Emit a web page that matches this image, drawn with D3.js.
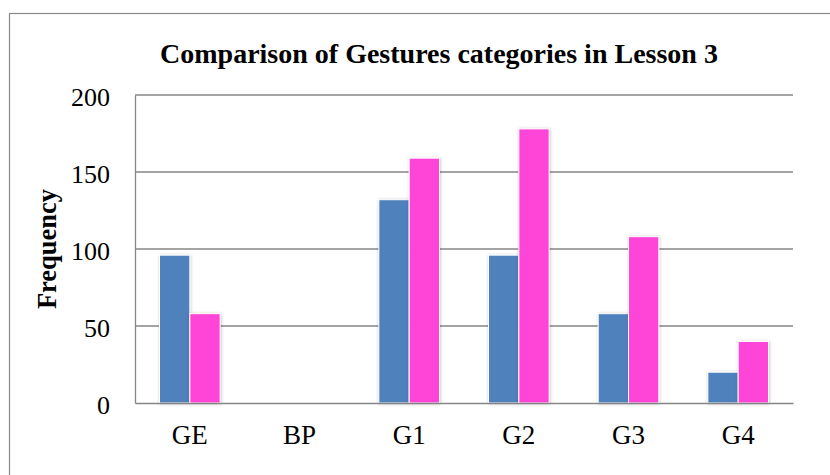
<!DOCTYPE html>
<html>
<head>
<meta charset="utf-8">
<script src="https://cdn.jsdelivr.net/npm/d3@7"></script>
<style>
  body { margin: 0; background: #fff; }
  svg { display: block; font-family: "Liberation Serif", "Times New Roman", serif; }
</style>
</head>
<body>
<svg id="chart"></svg>
<script>
// data
var categories = ["GE", "BP", "G1", "G2", "G3", "G4"];
var seriesA = [96, 0, 132, 96, 58, 20];
var seriesB = [58, 0, 159, 178, 108, 40];
var yTicks = [0, 50, 100, 150, 200];
var titleText = "Comparison of Gestures categories in Lesson 3";

var size = { width: 830, height: 475 };
var margin = { top: 95, right: 37, bottom: 72, left: 135 };
var width = size.width - margin.left - margin.right;
var height = size.height - margin.top - margin.bottom;

var svg = d3.select("#chart")
  .attr("width", size.width)
  .attr("height", size.height);

// bar shadow
var defs = svg.append("defs");
defs.append("filter")
    .attr("id", "shadow")
    .attr("x", "-20%").attr("y", "-20%")
    .attr("width", "140%").attr("height", "140%")
  .append("feDropShadow")
    .attr("dx", 0.5).attr("dy", 0.5)
    .attr("stdDeviation", 1.4)
    .attr("flood-color", "#000")
    .attr("flood-opacity", 0.25);

// outer frame
svg.append("rect")
  .attr("x", 9.5).attr("y", 13.5)
  .attr("width", 840).attr("height", 480)
  .attr("fill", "none")
  .attr("stroke", "#898989")
  .attr("stroke-width", 1.2);

svg.append("text")
  .attr("x", 439)
  .attr("y", 63)
  .attr("text-anchor", "middle")
  .attr("font-weight", "bold")
  .attr("font-size", "28px")
  .text(titleText);

var g = svg.append("g")
  .attr("transform", "translate(" + margin.left + "," + margin.top + ")");

var x0 = d3.scaleBand()
  .domain(categories)
  .range([0, width])
  .paddingInner(0.447)
  .paddingOuter(0.2235);

var x1 = d3.scaleBand()
  .domain(["a", "b"])
  .range([0, x0.bandwidth()]);

var y = d3.scaleLinear()
  .domain([0, 200])
  .range([height, 0]);

// gridlines
g.selectAll(".grid")
  .data(yTicks.slice(1))
  .enter().append("line")
    .attr("class", "grid")
    .attr("x1", 0).attr("x2", width)
    .attr("y1", function(d){ return y(d); })
    .attr("y2", function(d){ return y(d); })
    .attr("stroke", "#868686")
    .attr("stroke-width", 1.3);

// y axis
var yAxis = d3.axisLeft(y)
  .tickValues(yTicks)
  .tickSize(0)
  .tickPadding(25);

g.append("g")
  .call(yAxis)
  .call(function(s){
    s.select(".domain").attr("stroke", "#868686").attr("stroke-width", 1.3);
    s.selectAll("text")
      .attr("font-family", "Liberation Serif, serif")
      .attr("font-size", "26px")
      .attr("fill", "#000")
      .attr("dy", "0.42em");
  });

// bars
var rows = categories.map(function(c, i){
  return { cat: c, vals: [{ k: "a", v: seriesA[i] }, { k: "b", v: seriesB[i] }] };
});
var colors = { a: "#4F81BD", b: "#FF44D8" };

g.selectAll(".group")
  .data(rows)
  .enter().append("g")
    .attr("class", "group")
    .attr("transform", function(d){ return "translate(" + x0(d.cat) + ",0)"; })
  .selectAll("rect")
  .data(function(d){ return d.vals; })
  .enter().append("rect")
    .attr("x", function(d){ return x1(d.k); })
    .attr("width", x1.bandwidth())
    .attr("y", function(d){ return y(d.v); })
    .attr("height", function(d){ return height - y(d.v); })
    .attr("fill", function(d){ return colors[d.k]; })
    .attr("stroke", "#fff")
    .attr("stroke-width", 1)
    .attr("filter", "url(#shadow)");

// x axis
var xAxis = d3.axisBottom(x0).tickSize(0).tickPadding(22);
g.append("g")
  .attr("transform", "translate(0," + height + ")")
  .call(xAxis)
  .call(function(s){
    s.select(".domain").attr("stroke", "#868686").attr("stroke-width", 1.3);
    s.selectAll("text")
      .attr("font-family", "Liberation Serif, serif")
      .attr("font-size", "27px")
      .attr("fill", "#000");
  });

svg.append("text")
  .attr("transform", "translate(56,249) rotate(-90)")
  .attr("text-anchor", "middle")
  .attr("font-weight", "bold")
  .attr("font-size", "26.5px")
  .text("Frequency");
</script>
</body>
</html>
